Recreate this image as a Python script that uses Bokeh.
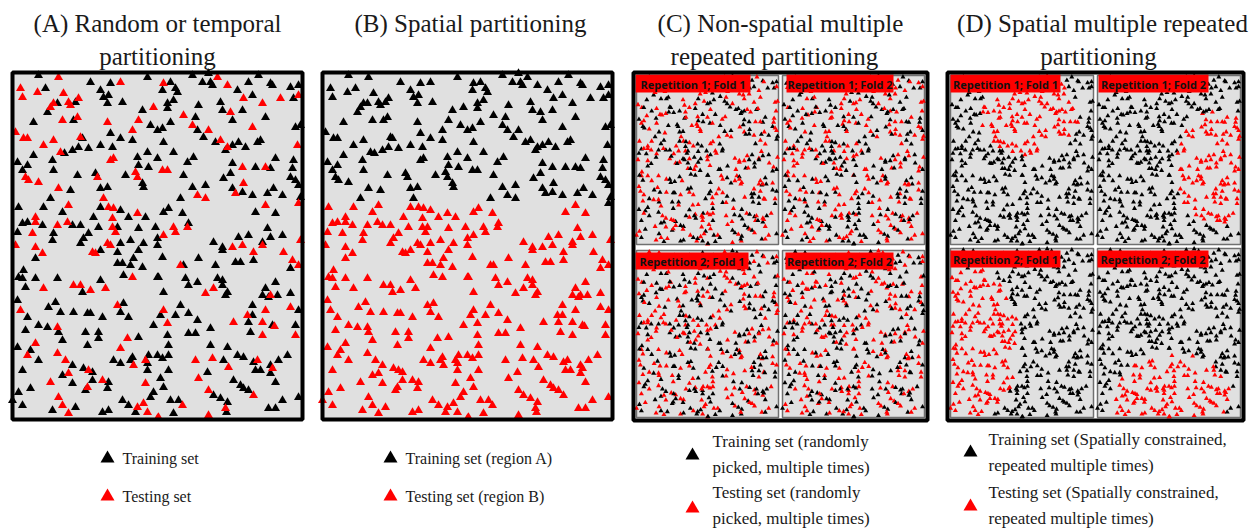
from bokeh.plotting import figure
from bokeh.models import Range1d
from bokeh.core.properties import value
from bokeh.embed import file_html
from bokeh.resources import INLINE

# ---------------- data ----------------
# field extent of every map (data units)
FIELD_W, FIELD_H = 290, 347

# sample locations (x, y from top), split by set
A_TRAIN = [
    (26,3),(78,10),(98,11),(135,5),(33,16),(45,31),(63,30),(88,18),(91,25),(96,23),(95,31),(110,30),
    (35,40),(61,48),(130,38),(21,50),(70,66),(98,61),(108,66),(120,68),(138,53),(145,58),(52,81),(60,78),
    (66,75),(76,76),(88,73),(100,75),(135,80),(145,86),(21,83),(40,88),(125,85),(126,93),(5,90),(10,98),
    (15,93),(41,98),(65,103),(83,101),(113,103),(136,95),(58,118),(88,116),(95,115),(130,111),(131,115),
    (38,126),(31,135),(88,135),(108,138),(133,145),(143,155),(6,135),(10,151),(15,150),(30,153),(50,140),
    (60,153),(68,153),(81,145),(86,155),(105,155),(116,145),(5,160),(41,161),(76,161),(126,156),(40,168),
    (68,171),(71,166),(108,171),(118,168),(131,171),(145,173),(145,166),
    (180,3),(196,1),(246,3),(158,10),(150,18),(163,16),(165,20),(190,10),(198,10),(200,13),(225,18),
    (236,10),(258,11),(260,13),(278,15),(286,13),(161,28),(155,31),(155,36),(186,33),(208,30),(210,38),
    (230,38),(240,23),(281,26),(183,45),(158,50),(220,48),(253,45),(150,56),(185,58),(283,55),(288,53),
    (191,65),(151,70),(203,70),(213,78),(220,73),(226,70),(233,75),(245,70),(248,68),(161,80),(181,85),
    (175,90),(263,86),(281,88),(171,103),(220,91),(243,95),(258,96),(280,96),(278,105),(218,101),(211,106),
    (283,108),(286,113),(180,115),(193,113),(220,116),(230,120),(168,126),(240,123),(255,121),(261,116),
    (270,123),(288,125),(156,136),(151,140),(170,141),(243,140),(263,141),(176,151),(255,156),(201,170),
    (226,165),(236,163),(250,170),(258,165),(270,163),(210,175),
    (23,186),(88,178),(105,180),(126,178),(11,198),(10,206),(6,205),(23,206),(13,215),(45,206),(70,220),
    (88,208),(105,191),(110,191),(121,186),(118,193),(130,195),(111,203),(145,205),(5,228),(15,245),
    (36,235),(43,230),(48,240),(61,240),(75,241),(78,241),(90,245),(111,231),(108,240),(116,245),(26,253),
    (35,255),(46,260),(13,258),(50,268),(73,260),(86,260),(86,266),(75,273),(126,265),(141,253),(5,275),
    (18,278),(26,288),(60,293),(101,288),(108,291),(120,285),(118,288),(135,291),(136,283),(145,283),
    (135,298),(10,298),(50,303),(71,296),(80,300),(80,308),(96,310),(95,316),(60,311),(73,318),(6,320),
    (18,316),(10,333),(0,328),(63,335),(40,338),(90,340),(96,338),(110,328),(116,333),(123,340),(141,320),
    (138,325),
    (210,178),(278,196),(150,185),(171,193),(186,186),(203,193),(223,190),(228,190),(241,188),(146,205),
    (173,206),(176,213),(185,210),(205,206),(210,208),(210,213),(215,220),(213,223),(263,210),(253,216),
    (250,223),(256,225),(265,223),(278,221),(151,220),(240,233),(240,243),(286,238),(168,233),(148,243),
    (163,243),(176,241),(185,248),(236,250),(260,253),(283,253),(198,256),(155,263),(176,261),(183,261),
    (238,260),(156,273),(198,273),(215,275),(150,286),(156,283),(211,288),(225,283),(231,285),(241,290),
    (258,293),(266,288),(275,283),(156,298),(195,300),(243,298),(248,298),(258,301),(148,306),(151,315),
    (221,308),(228,313),(231,316),(236,318),(263,310),(201,323),(208,326),(215,330),(270,328),(286,325),
    (158,328),(166,328),(214,340),(256,336),(263,336),(161,341),
]
A_TEST = [
    (46,5),(108,10),(8,16),(10,25),(25,20),(51,21),(41,31),(56,30),(58,33),(66,26),(38,35),(50,48),
    (65,45),(95,50),(141,35),(126,48),(3,60),(11,66),(15,66),(31,73),(41,68),(68,65),(120,58),(48,80),
    (98,88),(101,86),(13,105),(16,108),(26,110),(85,105),(123,100),(125,105),(46,116),(91,126),(56,133),
    (96,135),(101,136),(125,141),(23,145),(23,150),(45,153),(55,150),(100,146),(100,155),(20,161),
    (103,160),(3,173),(23,175),(95,171),(98,173),
    (205,5),(151,11),(215,13),(218,40),(231,26),(250,31),(268,26),(286,23),(171,43),(180,53),(196,58),
    (240,55),(208,68),(215,75),(285,73),(150,98),(155,98),(230,95),(253,95),(231,111),(223,121),(185,123),
    (193,126),(286,131),(253,133),(175,155),(161,155),(163,160),(151,163),(220,175),(230,173),(250,173),
    (288,168),
    (30,181),(80,180),(83,181),(31,216),(61,213),(68,213),(78,218),(93,216),(120,205),(8,238),(105,233),
    (45,255),(115,266),(23,271),(15,283),(45,281),(53,288),(108,276),(121,293),(133,288),(56,301),
    (76,298),(90,308),(38,310),(75,315),(46,325),(50,333),(56,341),(125,335),(133,311),(131,331),
    (135,340),(145,346),
    (241,180),(271,180),(280,188),(286,193),(168,193),(201,216),(193,221),(258,223),(235,243),(253,238),
    (278,235),(151,238),(155,251),(221,250),(250,250),(262,254),(250,263),(283,263),(183,288),(200,286),
    (245,288),(216,295),(260,296),(186,306),(196,318),(241,323),(170,333),(213,336),(196,343),(146,345),
]

# panel B: region A (training) lies above this line, region B (testing) below
B_SPLIT_Y = 133

# panel C: testing flags per location for each repetition/fold (1 = testing)
C_TEST = {
    "R1F1": ("01101001110100100110101100010110100111001010011010"
             "10010110001101011001010011101001010110010011010110"
             "01011001101000110101101001010011100101101001100101"
             "11010010100110101001011000110101001011010110010100"
             "00101101011001010110100111001010110100101001101011"
             "10110010100101100110101001011010010101100110010101"
             "01001101011010010101001101100101101001011010100110"
             "10100110010110101001100101010011010110100101011001"
             "01011010100101011010011010110010101001101001010110"
             "10010101101001101010010110010101101010011010101001"),
    "R1F2": ("10100101101100101001011010011001010110100101101001"
             "01011010010011010110100101100110101001011010010110"
             "00110101101001010010110101001101010110100110101001"
             "10101001010110101100101001011010100101011001010110"
             "01010110100101010011010110100101101010010101101001"
             "10011010010110100101001101010110010101101001010110"
             "01100101101010010110110010100101011010010110100101"
             "10010110010101101001010110101001100101010110100110"
             "01101010011001010101101001010110100110101001011001"
             "10100101011010100110010110101001010101100101101010"),
    "R2F1": ("11001010010110101001010110010110101001100101010110"
             "00110101101001010110101001101001010110010101101001"
             "01010010110101100101001011010100101101010011010100"
             "10101101001010011010110100101011001010101101001011"
             "01010100110101101010010101100101101001010110100101"
             "10101011001010010101101010011010100101101001011010"
             "01011010010101101001010101101001011010100101010110"
             "10100101101010010110101010010110100101011010101001"
             "01011001010110100101010110101001010110100101101010"
             "10100110101001011010101001010110101010010110010101"),
    "R2F2": ("01010110100101101001011010100110010101101010010101"
             "10101001011010010110100101011001101010010101101010"
             "01100101010110101001011010100101010110100101010011"
             "10011010101001010110100101011010101001011010101100"
             "01010101101010010101101001010101100101101010010101"
             "10101010010101101010010110101010011010010101101010"
             "01010101101001010110101001010110100101101010010101"
             "10100110010110101001010110101001011010010101101010"
             "01011001101001010110100101101010100101010110101001"
             "10100110010101101010010101101010011010101001010110"),
}

# panel D: spatially constrained testing blocks (ellipse centre x, y, radius x, y)
D_FOLDS = ["R1F1", "R1F2", "R2F1", "R2F2"]
D_CX = [160, 240, 40, 150]
D_CY = [80, 190, 195, 305]
D_RX = [100, 80, 100, 120]
D_RY = [85, 120, 155, 90]

TITLES_L1 = ["(A) Random or temporal", "(B) Spatial partitioning",
             "(C) Non-spatial multiple", "(D) Spatial multiple repeated"]
TITLES_L2 = ["partitioning", "", "repeated  partitioning", "partitioning"]
FOLD_LABELS = ["Repetition 1; Fold 1", "Repetition 1; Fold 2",
               "Repetition 2; Fold 1", "Repetition 2; Fold 2"]
LEG_TRAIN = ["Training  set", "Training  set (region A)",
             "Training  set (randomly\npicked, multiple times)",
             "Training   set (Spatially constrained,\nrepeated multiple times)"]
LEG_TEST = ["Testing set", "Testing set (region B)",
            "Testing  set  (randomly\npicked, multiple times)",
            "Testing  set  (Spatially  constrained,\nrepeated multiple times)"]

# ---------------- layout / style ----------------
W, H = 1252, 528
RED, BLACK, GRAY = "#ff0000", "#000000", "#e0e0e0"
SERIF = value("Liberation Serif")
SANS = value("Open Sans")

PANEL_A = (12, 302, 72, 419)
PANEL_B = (322, 612, 72, 419)
OUTER_C = (633, 927, 72, 420)
OUTER_D = (947, 1243, 72, 420)
SUBS_C = [(636, 778, 75, 244), (782, 924, 75, 244), (636, 778, 250, 417), (782, 924, 250, 417)]
SUBS_D = [(950, 1093, 75, 244), (1097, 1240, 75, 244), (950, 1093, 248, 417), (1097, 1240, 248, 417)]
LBL_C = [(635, 750, 74, 92), (786, 893, 74, 92), (635, 748, 252, 269), (785, 893, 252, 269)]
LBL_D = [(950, 1060, 74, 92), (1098, 1208, 74, 92), (950, 1060, 250, 267), (1097, 1208, 250, 267)]

p = figure(width=W, height=H, x_range=Range1d(0, W), y_range=Range1d(H, 0),
           output_backend="svg", toolbar_location=None, min_border=0,
           x_axis_location=None, y_axis_location=None)
p.grid.visible = False
p.outline_line_color = None
p.background_fill_color = "white"
p.border_fill_color = "white"

xr, yr = {}, {}


def add_ranges(name, box):
    x0, x1, y0, y1 = box
    kx = FIELD_W / (x1 - x0)
    ky = FIELD_H / (y1 - y0)
    xr[name] = Range1d(start=-x0 * kx, end=(W - x0) * kx)
    yr[name] = Range1d(start=(H - y0) * ky, end=-y0 * ky)


add_ranges("A", PANEL_A)
add_ranges("B", PANEL_B)
for f, b in zip(D_FOLDS, SUBS_C):
    add_ranges("C" + f, b)
for f, b in zip(D_FOLDS, SUBS_D):
    add_ranges("D" + f, b)
p.extra_x_ranges = xr
p.extra_y_ranges = yr

ALL = A_TRAIN + A_TEST
PX = [q[0] for q in ALL]
PY = [q[1] for q in ALL]
N = len(ALL)


def field(name, xs, ys, colors, size, border):
    p.quad(left=[0], right=[FIELD_W], top=[0], bottom=[FIELD_H], fill_color=GRAY,
           line_color=border[0], line_width=border[1], x_range_name=name, y_range_name=name)
    p.scatter(xs, ys, marker="triangle", size=size, fill_color=colors, line_color=None,
              x_range_name=name, y_range_name=name)


# Panel A
colA = [BLACK] * len(A_TRAIN) + [RED] * len(A_TEST)
field("A", PX, PY, colA, 9, (None, 0))
# Panel B
colB = [BLACK if y < B_SPLIT_Y else RED for y in PY]
field("B", PX, PY, colB, 9, (None, 0))

for box in (PANEL_A, PANEL_B):
    p.quad(left=[box[0]], right=[box[1]], top=[box[2]], bottom=[box[3]],
           fill_color=None, line_color=BLACK, line_width=4)

# Panels C and D
for outer in (OUTER_C, OUTER_D):
    p.quad(left=[outer[0]], right=[outer[1]], top=[outer[2]], bottom=[outer[3]],
           fill_color="white", line_color=None)

for f in D_FOLDS:
    flags = C_TEST[f]
    colC = [RED if flags[i] == "1" else BLACK for i in range(N)]
    field("C" + f, PX, PY, colC, 5, ("#707070", 1.5))

for f, cx, cy, rx, ry in zip(D_FOLDS, D_CX, D_CY, D_RX, D_RY):
    colD = [RED if ((x - cx) / rx) ** 2 + ((y - cy) / ry) ** 2 <= 1 else BLACK
            for x, y in zip(PX, PY)]
    field("D" + f, PX, PY, colD, 5, ("#707070", 1.5))

for boxes in (LBL_C, LBL_D):
    p.quad(left=[b[0] for b in boxes], right=[b[1] for b in boxes],
           top=[b[2] for b in boxes], bottom=[b[3] for b in boxes],
           fill_color=RED, line_color=None)
    p.text(x=[(b[0] + b[1]) / 2 for b in boxes], y=[(b[2] + b[3]) / 2 + 0.5 for b in boxes],
           text=FOLD_LABELS, text_font=SANS, text_font_style="bold", text_font_size="11px",
           text_color="#111111", text_align="center", text_baseline="middle")

for outer in (OUTER_C, OUTER_D):
    p.quad(left=[outer[0]], right=[outer[1]], top=[outer[2]], bottom=[outer[3]],
           fill_color=None, line_color=BLACK, line_width=4)

# Titles
p.text(x=[157, 470, 780, 1102], y=[23] * 4, text=TITLES_L1, text_font=SERIF,
       text_font_size="25px", text_color="#1a1a1a", text_align="center", text_baseline="middle")
p.text(x=[157, 470, 777, 1098], y=[56] * 4, text=TITLES_L2, text_font=SERIF,
       text_font_size="25px", text_color="#1a1a1a", text_align="center", text_baseline="middle")

# Legends
p.scatter([107, 390, 692, 970], [458, 458, 455, 452], marker="triangle", size=14,
          fill_color=BLACK, line_color=None)
p.scatter([107, 390, 692, 970], [496, 496, 508, 506], marker="triangle", size=14,
          fill_color=RED, line_color=None)
p.text(x=[122, 405], y=[458, 458], text=LEG_TRAIN[:2], text_font=SERIF, text_font_size="16px",
       text_color="#1a1a1a", text_baseline="middle")
p.text(x=[122, 405], y=[496, 496], text=LEG_TEST[:2], text_font=SERIF, text_font_size="16px",
       text_color="#1a1a1a", text_baseline="middle")
p.text(x=[712, 988], y=[454, 452], text=LEG_TRAIN[2:], text_font=SERIF, text_font_size="17px",
       text_color="#1a1a1a", text_baseline="middle", text_line_height=1.35)
p.text(x=[712, 988], y=[505, 505], text=LEG_TEST[2:], text_font=SERIF, text_font_size="17px",
       text_color="#1a1a1a", text_baseline="middle", text_line_height=1.35)

open("out.html", "w").write(file_html(p, INLINE))
